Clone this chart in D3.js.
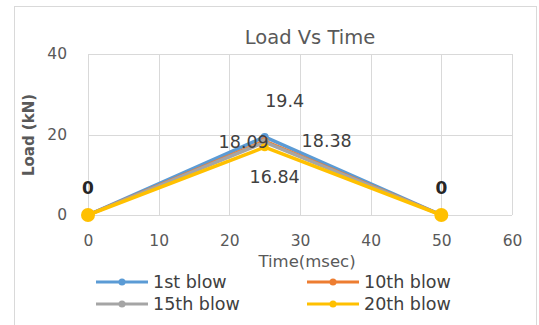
<!DOCTYPE html>
<html>
<head>
<meta charset="utf-8">
<script src="https://cdn.jsdelivr.net/npm/d3@7"></script>
<style>
  html, body { margin: 0; padding: 0; background: #fff; }
  svg { display: block; font-family: "DejaVu Sans", "Open Sans", sans-serif; }
</style>
</head>
<body>
<svg id="chart" width="539" height="325"></svg>
<script>
// Impact load history for successive blows
const times = [0, 25, 50];
const seriesNames = ["1st blow", "10th blow", "15th blow", "20th blow"];
const blow1 = [0, 19.4, 0];
const blow10 = [0, 18.38, 0];
const blow15 = [0, 18.09, 0];
const blow20 = [0, 16.84, 0];
const seriesValues = [blow1, blow10, blow15, blow20];
const colors = ["#5B9BD5", "#ED7D31", "#A5A5A5", "#FFC000"];
const xTicks = [0, 10, 20, 30, 40, 50, 60];
const yTicks = [0, 20, 40];

const svg = d3.select("#chart");

// outer chart frame
svg.append("rect")
  .attr("x", 14.5).attr("y", 6.5)
  .attr("width", 522).attr("height", 330)
  .attr("fill", "#fff").attr("stroke", "#d9d9d9");

const x = d3.scaleLinear().domain([0, 60]).range([88, 512]);
const y = d3.scaleLinear().domain([0, 40]).range([215, 54]);

// gridlines
const grid = svg.append("g").attr("stroke", "#d9d9d9").attr("stroke-width", 1);
xTicks.forEach(t => grid.append("line")
  .attr("x1", Math.round(x(t)) + 0.5).attr("x2", Math.round(x(t)) + 0.5)
  .attr("y1", y(40)).attr("y2", y(0)));
yTicks.forEach(t => grid.append("line")
  .attr("x1", x(0)).attr("x2", x(60))
  .attr("y1", Math.round(y(t)) + 0.5).attr("y2", Math.round(y(t)) + 0.5));

// axes (labels only)
const xAxis = svg.append("g").attr("transform", `translate(0,${y(0) + 12})`)
  .call(d3.axisBottom(x).tickValues(xTicks).tickSize(0).tickPadding(8));
const yAxis = svg.append("g").attr("transform", `translate(${x(0) - 15},0)`)
  .call(d3.axisLeft(y).tickValues(yTicks).tickSize(0).tickPadding(6));
[xAxis, yAxis].forEach(a => {
  a.select(".domain").remove();
  a.selectAll("text").attr("fill", "#595959").attr("font-size", 15.5)
    .attr("font-family", "\"DejaVu Sans\", sans-serif");
});

// titles
svg.append("text").attr("x", 310).attr("y", 44).attr("text-anchor", "middle")
  .attr("fill", "#595959").attr("font-size", 19.5).text("Load Vs Time");
svg.append("text").attr("transform", "translate(34,135) rotate(-90)")
  .attr("text-anchor", "middle").attr("fill", "#595959")
  .attr("font-size", 15).attr("font-weight", "bold").text("Load (kN)");
svg.append("text").attr("x", 307).attr("y", 267).attr("text-anchor", "middle")
  .attr("fill", "#595959").attr("font-size", 16.5).text("Time(msec)");

// series lines and markers
const line = d3.line().x((d, i) => x(times[i])).y(d => y(d));
seriesValues.forEach((vals, s) => {
  svg.append("path").datum(vals)
    .attr("d", line).attr("fill", "none")
    .attr("stroke", colors[s]).attr("stroke-width", 3.5)
    .attr("stroke-linejoin", "round");
  svg.append("g").selectAll("circle").data(vals).join("circle")
    .attr("cx", (d, i) => x(times[i])).attr("cy", d => y(d))
    .attr("r", 4).attr("fill", colors[s]);
});
// larger end markers of the last series drawn on top
svg.append("g").selectAll("circle").data([0, 2]).join("circle")
  .attr("cx", i => x(times[i])).attr("cy", i => y(blow20[i]))
  .attr("r", 7).attr("fill", colors[3]);

// data labels at the peak
const peakLabels = [
  { v: blow1[1], dx: 20, dy: -36 },
  { v: blow10[1], dx: 62, dy: 0 },
  { v: blow15[1], dx: -21, dy: 0 },
  { v: blow20[1], dx: 10, dy: 30 }
];
peakLabels.forEach(l => {
  svg.append("text").attr("x", x(times[1]) + l.dx).attr("y", y(l.v) + l.dy + 6)
    .attr("text-anchor", "middle").attr("fill", "#404040").attr("font-size", 17.5)
    .text(l.v);
});
// zero labels at start and end
[0, 2].forEach(i => {
  svg.append("text").attr("x", x(times[i])).attr("y", y(blow1[i]) - 21)
    .attr("text-anchor", "middle").attr("fill", "#262626").attr("font-size", 17)
    .attr("font-weight", "bold").text(blow1[i]);
});

// legend
const legend = svg.append("g");
seriesNames.forEach((name, s) => {
  const col = s % 2, row = Math.floor(s / 2);
  const lx = col === 0 ? 96 : 307, ly = 282 + row * 22;
  legend.append("line").attr("x1", lx).attr("x2", lx + 52)
    .attr("y1", ly).attr("y2", ly).attr("stroke", colors[s]).attr("stroke-width", 3);
  legend.append("circle").attr("cx", lx + 26).attr("cy", ly).attr("r", 3.5).attr("fill", colors[s]);
  legend.append("text").attr("x", lx + 57).attr("y", ly + 6)
    .attr("fill", "#404040").attr("font-size", 17.5).text(name);
});
</script>
</body>
</html>
